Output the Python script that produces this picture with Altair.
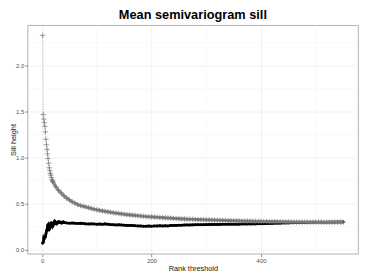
import altair as alt
import pandas as pd

# ---- data ----
rank_grey = list(range(1, 21)) + list(range(25, 551, 5))
sill_grey = [
    2.33, 1.47, 1.42, 1.38, 1.34, 1.28, 1.20, 1.14, 1.09, 1.04,
    0.99, 0.94, 0.89, 0.86, 0.83, 0.81, 0.785, 0.76, 0.745, 0.735,
    0.685, 0.645, 0.615, 0.585, 0.56, 0.54, 0.52, 0.505, 0.49, 0.48,
    0.472, 0.464, 0.456, 0.448, 0.44, 0.433, 0.427, 0.421, 0.416, 0.411,
    0.406, 0.401, 0.397, 0.393, 0.389, 0.385, 0.381, 0.378, 0.375, 0.372,
    0.369, 0.366, 0.363, 0.36, 0.358, 0.356, 0.354, 0.352, 0.35, 0.348,
    0.346, 0.344, 0.342, 0.34, 0.338, 0.337, 0.335, 0.334, 0.332, 0.331,
    0.33, 0.328, 0.327, 0.326, 0.325, 0.324, 0.323, 0.322, 0.321, 0.32,
    0.319, 0.318, 0.317, 0.316, 0.315, 0.314, 0.313, 0.313, 0.312, 0.311,
    0.31, 0.31, 0.309, 0.308, 0.308, 0.307, 0.306, 0.306, 0.305, 0.305,
    0.304, 0.304, 0.303, 0.303, 0.302, 0.302, 0.301, 0.301, 0.301, 0.3,
    0.3, 0.3, 0.3, 0.299, 0.299, 0.299, 0.299, 0.299, 0.298, 0.298,
    0.298, 0.298, 0.298, 0.298, 0.298, 0.298,
]
rank_black = list(range(1, 41)) + list(range(45, 551, 5))
sill_black = [
    0.07, 0.08, 0.13, 0.12, 0.14, 0.14, 0.17, 0.20, 0.22, 0.26,
    0.27, 0.24, 0.22, 0.23, 0.26, 0.29, 0.29, 0.27, 0.25, 0.26,
    0.28, 0.30, 0.31, 0.30, 0.29, 0.28, 0.28, 0.29, 0.30, 0.30,
    0.30, 0.30, 0.295, 0.295, 0.29, 0.29, 0.295, 0.30, 0.30, 0.295,
    0.29, 0.288, 0.29, 0.287, 0.285, 0.287, 0.284, 0.28, 0.278, 0.28,
    0.278, 0.276, 0.278, 0.275, 0.28, 0.276, 0.272, 0.27, 0.268, 0.27,
    0.268, 0.266, 0.264, 0.262, 0.263, 0.26, 0.258, 0.257, 0.255, 0.254,
    0.256, 0.255, 0.257, 0.258, 0.26, 0.258, 0.26, 0.258, 0.262, 0.263,
    0.264, 0.265, 0.266, 0.267, 0.268, 0.268, 0.269, 0.27, 0.27, 0.271,
    0.271, 0.272, 0.272, 0.273, 0.273, 0.274, 0.274, 0.275, 0.275, 0.276,
    0.276, 0.276, 0.277, 0.277, 0.278, 0.278, 0.279, 0.279, 0.28, 0.28,
    0.281, 0.281, 0.282, 0.283, 0.284, 0.285, 0.286, 0.287, 0.288, 0.289,
    0.29, 0.291, 0.292, 0.293, 0.293, 0.294, 0.294, 0.295, 0.295, 0.296,
    0.296, 0.297, 0.297, 0.298, 0.298, 0.298, 0.299, 0.299, 0.299, 0.3,
    0.3, 0.3,
]
x_ticks = [0, 200, 400]
y_ticks = [0.0, 0.5, 1.0, 1.5, 2.0]
minor_x = [100, 300, 500]
minor_y = [0.25, 0.75, 1.25, 1.75, 2.25]

grey_df = pd.DataFrame({"rank": rank_grey, "sill": sill_grey})
black_df = pd.DataFrame({"rank": rank_black, "sill": sill_black})
minx_df = pd.DataFrame({"rank": minor_x})
miny_df = pd.DataFrame({"sill": minor_y})

FONT = "Liberation Sans"
xscale = alt.Scale(domain=[-26.45, 577.45], nice=False, zero=False)
yscale = alt.Scale(domain=[-0.045, 2.44], nice=False, zero=False)
xaxis = alt.Axis(title="Rank threshold", values=x_ticks, format="d", titlePadding=1)
yaxis = alt.Axis(title="Sill height", values=y_ticks, format=".1f", titleX=-10)

X = alt.X("rank:Q", scale=xscale, axis=xaxis)
Y = alt.Y("sill:Q", scale=yscale, axis=yaxis)

minor_v = alt.Chart(minx_df).mark_rule(color="#f4f4f4", strokeWidth=0.6).encode(x=X)
minor_h = alt.Chart(miny_df).mark_rule(color="#f4f4f4", strokeWidth=0.6).encode(y=Y)

black_line = alt.Chart(black_df).mark_line(color="black", strokeWidth=2.6).encode(x=X, y=Y)
black_pts = alt.Chart(black_df).mark_point(
    shape="circle", filled=True, color="black", size=9, opacity=1
).encode(x=X, y=Y)

grey_line = alt.Chart(grey_df).mark_line(
    color="#808080", strokeWidth=0.6, strokeDash=[1, 1.5]
).encode(x=X, y=Y)
grey_band = alt.Chart(grey_df).transform_filter(
    alt.datum.rank >= 18
).mark_line(color="#8e8e8e", strokeWidth=3.2).encode(x=X, y=Y)
grey_pts = alt.Chart(grey_df).mark_point(
    shape="M-1,0L1,0M0,-1L0,1", filled=False, stroke="#707070",
    strokeWidth=0.7, size=30, opacity=1
).encode(x=X, y=Y)

chart = alt.layer(
    minor_v, minor_h, black_line, black_pts, grey_line, grey_band, grey_pts
).properties(
    width=337,
    height=233,
    autosize=alt.AutoSizeParams(type="none"),
    padding={"left": 20, "top": 15, "right": 8, "bottom": 16},
    title=alt.TitleParams(
        "Mean semivariogram sill", font=FONT, fontSize=13, fontWeight="bold",
        anchor="middle", color="black", offset=3,
    ),
).configure_view(
    stroke="#8c8c8c", strokeWidth=0.7
).configure_axis(
    grid=True, gridColor="#e8e8e8", gridWidth=0.6,
    domain=False, ticks=True, tickColor="#444444", tickSize=3, tickWidth=0.6,
    labelFont=FONT, labelFontSize=6, labelColor="#4d4d4d", labelPadding=1,
    titleFont=FONT, titleFontSize=7.5, titleFontWeight="normal", titleColor="#111111",
)

chart.save("out.html", embed_options={"renderer": "svg", "actions": False})
